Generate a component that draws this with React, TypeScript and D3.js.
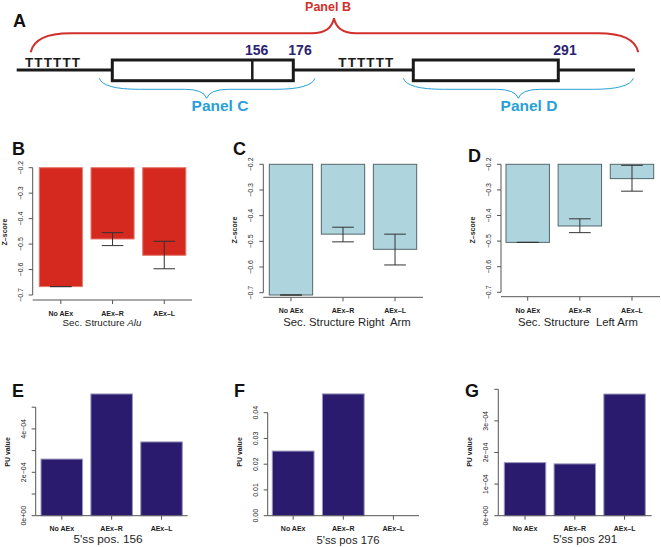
import React from 'react';
import * as d3 from 'd3';

const categories = ['No AEx', 'AEx\u2013R', 'AEx\u2013L'];

// Z-scores of secondary structure (bar value, error bar low / high)
const aluScore = [-0.667, -0.48, -0.544];
const aluLow = [-0.667, -0.506, -0.597];
const aluHigh = [-0.667, -0.455, -0.489];
const rightScore = [-0.709, -0.472, -0.531];
const rightLow = [-0.709, -0.502, -0.592];
const rightHigh = [-0.709, -0.445, -0.472];
const leftScore = [-0.505, -0.441, -0.256];
const leftLow = [-0.505, -0.467, -0.305];
const leftHigh = [-0.505, -0.413, -0.204];

// PU values at the 5'ss positions
const pu156 = [2.61e-4, 5.61e-4, 3.4e-4];
const pu176 = [0.0251, 0.0473, 0];
const pu291 = [1.68e-4, 1.64e-4, 3.85e-4];

const zTicks = [-0.2, -0.3, -0.4, -0.5, -0.6, -0.7];
const zLabels = ['\u22120.2', '\u22120.3', '\u22120.4', '\u22120.5', '\u22120.6', '\u22120.7'];
const pu156Ticks = [0, 1e-4, 2e-4, 3e-4, 4e-4, 5e-4];
const pu156Labels = ['0e+00', '', '2e\u221204', '', '4e\u221204', ''];
const pu176Ticks = [0, 0.01, 0.02, 0.03, 0.04];
const pu176Labels = ['0.00', '0.01', '0.02', '0.03', '0.04'];
const pu291Ticks = [0, 1e-4, 2e-4, 3e-4, 4e-4];
const pu291Labels = ['0e+00', '1e\u221204', '2e\u221204', '3e\u221204', ''];

const zTitle = 'Z\u2013score';
const puTitle = 'PU value';

const FONT = "'Liberation Sans', Arial, Helvetica, sans-serif";
const AXIS = '#555';
const TEXT = '#1e1e1e';

type PanelProps = {
  letter: string;
  letterX: number;
  letterY: number;
  axisX: number;
  xRange: [number, number];
  yDomain: [number, number];
  yRange: [number, number];
  xAxisY: number;
  xAxisEnd: number;
  values: number[];
  low?: number[];
  high?: number[];
  ticks: number[];
  tickLabels: string[];
  fill: string;
  stroke: string;
  yTitle: string;
  yTitleY: number;
  title: React.ReactNode;
  titleX: number;
  titleY: number;
  titleSize: number;
  catY: number;
};

function BarPanel(p: PanelProps) {
  const x = d3.scaleBand<string>().domain(categories).range(p.xRange).paddingInner(0.167).paddingOuter(0);
  const y = d3.scaleLinear().domain(p.yDomain).range(p.yRange);
  const base = y(p.yDomain[0]);
  const bw = x.bandwidth();
  const cap = bw * 0.25;
  const tickExtent = d3.extent(p.ticks) as [number, number];

  return (
    <g>
      <text x={p.letterX} y={p.letterY} fontSize={18} fontWeight="bold" fill="#111">{p.letter}</text>
      {p.values.map((v, i) => {
        const c = categories[i];
        const yv = y(v);
        if (v === p.yDomain[0]) return null;
        return (
          <rect key={c} x={x(c)} y={Math.min(base, yv)} width={bw} height={Math.abs(yv - base)}
            fill={p.fill} stroke={p.stroke} strokeWidth={1} />
        );
      })}
      {p.low && p.high && p.values.map((v, i) => {
        const cx = (x(categories[i]) as number) + bw / 2;
        const lo = y(p.low![i]);
        const hi = y(p.high![i]);
        return (
          <g key={'e' + i} stroke="#333" strokeWidth={1}>
            <line x1={cx} x2={cx} y1={lo} y2={hi} />
            <line x1={cx - cap} x2={cx + cap} y1={lo} y2={lo} />
            <line x1={cx - cap} x2={cx + cap} y1={hi} y2={hi} />
          </g>
        );
      })}
      {/* y axis */}
      <line x1={p.axisX} x2={p.axisX} y1={y(tickExtent[0])} y2={y(tickExtent[1])} stroke={AXIS} />
      {p.ticks.map((t, i) => (
        <g key={'t' + i}>
          <line x1={p.axisX - 4} x2={p.axisX} y1={y(t)} y2={y(t)} stroke={AXIS} />
          <text x={p.axisX - 10} y={y(t)} transform={`rotate(-90, ${p.axisX - 10}, ${y(t)})`}
            textAnchor="middle" fontSize={7} fill={TEXT}>{p.tickLabels[i]}</text>
        </g>
      ))}
      <text x={p.axisX - 26} y={p.yTitleY} transform={`rotate(-90, ${p.axisX - 26}, ${p.yTitleY})`}
        textAnchor="middle" fontSize={7} fontWeight="bold" fill={TEXT}>{p.yTitle}</text>
      {/* x axis */}
      <line x1={p.axisX} x2={p.xAxisEnd} y1={p.xAxisY} y2={p.xAxisY} stroke={AXIS} />
      {categories.map(c => {
        const cx = (x(c) as number) + bw / 2;
        return (
          <g key={'x' + c}>
            <line x1={cx} x2={cx} y1={p.xAxisY} y2={p.xAxisY + 4} stroke={AXIS} />
            <text x={cx} y={p.catY} textAnchor="middle" fontSize={7} fontWeight="bold" fill={TEXT}>{c}</text>
          </g>
        );
      })}
      <text x={p.titleX} y={p.titleY} textAnchor="middle" fontSize={p.titleSize} fill={TEXT}
        style={{ whiteSpace: 'pre' }}>{p.title}</text>
    </g>
  );
}

// curly brace between two end points with its tip at tipX
function bracePath(x1: number, x2: number, tipX: number, yEnd: number, yMid: number, yTip: number) {
  const r = 40;
  const p = d3.path();
  p.moveTo(x1, yEnd);
  p.quadraticCurveTo(x1 + 4, yMid, x1 + r, yMid);
  p.lineTo(tipX - 22, yMid);
  p.quadraticCurveTo(tipX - 3, yMid, tipX, yTip);
  p.quadraticCurveTo(tipX + 3, yMid, tipX + 22, yMid);
  p.lineTo(x2 - r, yMid);
  p.quadraticCurveTo(x2 - 4, yMid, x2, yEnd);
  return p.toString();
}

function Schematic() {
  const navy = '#2b2470';
  const blue = '#2a9fd8';
  const red = '#d1302c';
  return (
    <g>
      <text x={13} y={27} fontSize={18} fontWeight="bold" fill="#111">A</text>
      <path d={bracePath(30.7, 638.3, 334, 52.3, 33.3, 18.3)} fill="none" stroke={red} strokeWidth={2} />
      <text x={328} y={11} textAnchor="middle" fontSize={12.5} fontWeight="bold" fill={red}>Panel B</text>
      <line x1={16.7} x2={635} y1={70} y2={70} stroke="#1a1a1a" strokeWidth={3} />
      <text x={25} y={67} fontSize={13.5} fontWeight="bold" fill="#1a1a1a" textLength={55} lengthAdjust="spacing">TTTTTT</text>
      <text x={338.3} y={67} fontSize={13.5} fontWeight="bold" fill="#1a1a1a" textLength={55} lengthAdjust="spacing">TTTTTT</text>
      <rect x={112.3} y={60} width={181} height={20.7} fill="#fff" stroke="#1a1a1a" strokeWidth={3} />
      <line x1={252.3} x2={252.3} y1={60} y2={80.7} stroke="#1a1a1a" strokeWidth={2.5} />
      <rect x={413.3} y={60} width={145} height={20.7} fill="#fff" stroke="#1a1a1a" strokeWidth={3} />
      <text x={256.7} y={55} textAnchor="middle" fontSize={14} fontWeight="bold" fill={navy}>156</text>
      <text x={300} y={55} textAnchor="middle" fontSize={14} fontWeight="bold" fill={navy}>176</text>
      <text x={565} y={55} textAnchor="middle" fontSize={14} fontWeight="bold" fill={navy}>291</text>
      <path d={bracePath(99.3, 315, 206.7, 78.3, 89.3, 98.3)} fill="none" stroke={blue} strokeWidth={1} />
      <path d={bracePath(403.3, 633.3, 518.3, 78.3, 89.3, 98.3)} fill="none" stroke={blue} strokeWidth={1} />
      <text x={220} y={111} textAnchor="middle" fontSize={15.5} fontWeight="bold" fill={blue}>Panel C</text>
      <text x={529} y={111} textAnchor="middle" fontSize={15.5} fontWeight="bold" fill={blue}>Panel D</text>
    </g>
  );
}

const red = '#d5281f';
const lightBlue = '#aed5de';
const navyBar = '#2b1b6e';

export default function App() {
  return (
    <svg width={661} height={547} style={{ position: 'absolute', left: 0, top: 0, background: '#fff' }}
      fontFamily={FONT}>
      <rect width={661} height={547} fill="#fff" />
      <Schematic />
      <BarPanel letter="B" letterX={12} letterY={155} axisX={32.7} xRange={[39.3, 185.8]}
        yDomain={[-0.2, -0.7]} yRange={[167.7, 295]} xAxisY={300} xAxisEnd={192}
        values={aluScore} low={aluLow} high={aluHigh} ticks={zTicks} tickLabels={zLabels}
        fill={red} stroke="#e2766c" yTitle={zTitle} yTitleY={232}
        title={<>Sec. Structure <tspan fontStyle="italic">Alu</tspan></>} titleX={102} titleY={326} titleSize={9.8} catY={316} />
      <BarPanel letter="C" letterX={233} letterY={155} axisX={263.3} xRange={[269.3, 416.7]}
        yDomain={[-0.2, -0.7]} yRange={[164.3, 292.7]} xAxisY={297.3} xAxisEnd={423}
        values={rightScore} low={rightLow} high={rightHigh} ticks={zTicks} tickLabels={zLabels}
        fill={lightBlue} stroke="#55676c" yTitle={zTitle} yTitleY={230}
        title={'Sec. Structure Right  Arm'} titleX={347} titleY={326} titleSize={11.3} catY={313} />
      <BarPanel letter="D" letterX={468} letterY={162} axisX={501} xRange={[506, 653.7]}
        yDomain={[-0.2, -0.7]} yRange={[164.3, 292.3]} xAxisY={296.7} xAxisEnd={660}
        values={leftScore} low={leftLow} high={leftHigh} ticks={zTicks} tickLabels={zLabels}
        fill={lightBlue} stroke="#55676c" yTitle={zTitle} yTitleY={230}
        title={'Sec. Structure  Left Arm'} titleX={578} titleY={326} titleSize={11.3} catY={313} />
      <BarPanel letter="E" letterX={12} letterY={397} axisX={35.7} xRange={[41, 182.3]}
        yDomain={[0, 5e-4]} yRange={[515.7, 407.2]} xAxisY={515.7} xAxisEnd={187.7}
        values={pu156} ticks={pu156Ticks} tickLabels={pu156Labels}
        fill={navyBar} stroke="#9a98bc" yTitle={puTitle} yTitleY={452}
        title={"5'ss pos. 156"} titleX={108} titleY={543} titleSize={11.8} catY={530.5} />
      <BarPanel letter="F" letterX={234} letterY={397} axisX={267.7} xRange={[272.3, 414.3]}
        yDomain={[0, 0.04]} yRange={[515.7, 412.7]} xAxisY={515.7} xAxisEnd={419}
        values={pu176} ticks={pu176Ticks} tickLabels={pu176Labels}
        fill={navyBar} stroke="#9a98bc" yTitle={puTitle} yTitleY={452}
        title={"5'ss pos 176"} titleX={348} titleY={544} titleSize={11.3} catY={530.5} />
      <BarPanel letter="G" letterX={465} letterY={397} axisX={498.3} xRange={[504.3, 645.3]}
        yDomain={[0, 4e-4]} yRange={[515.7, 389.3]} xAxisY={515.7} xAxisEnd={651.7}
        values={pu291} ticks={pu291Ticks} tickLabels={pu291Labels}
        fill={navyBar} stroke="#9a98bc" yTitle={puTitle} yTitleY={452}
        title={"5'ss pos 291"} titleX={585} titleY={543} titleSize={11.5} catY={530.5} />
    </svg>
  );
}
